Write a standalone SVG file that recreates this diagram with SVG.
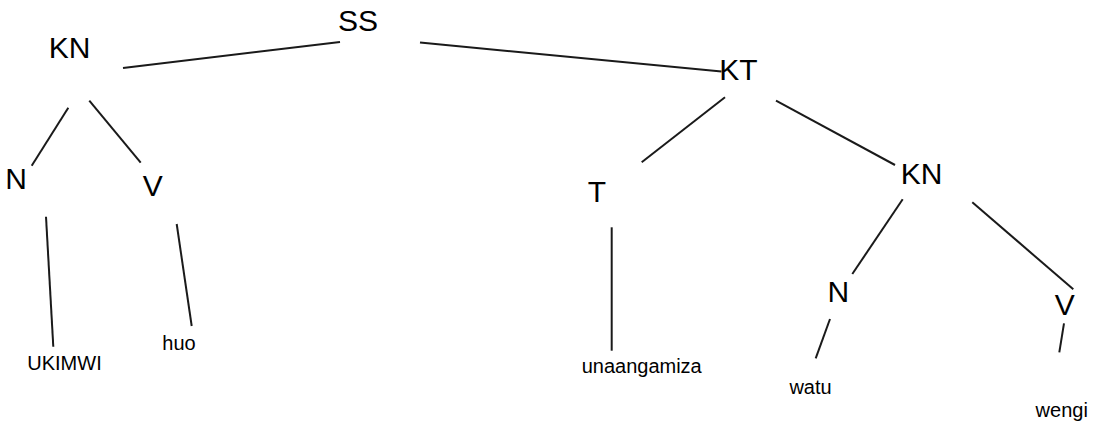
<svg xmlns="http://www.w3.org/2000/svg" width="1095" height="426" viewBox="0 0 1095 426">
<style>
.big{font-family:"Liberation Sans",Arial,Helvetica,sans-serif;font-size:30px;fill:#000;text-anchor:middle}
.small{font-family:"Liberation Sans",Arial,Helvetica,sans-serif;font-size:20px;fill:#000;text-anchor:middle}
.edge{stroke:#1a1a1a;stroke-width:2;fill:none;stroke-linecap:butt}
</style>
<rect width="1095" height="426" fill="#fff"/>
<g id="connectors">
<line class="edge" x1="123" y1="68" x2="340" y2="42"/>
<line class="edge" x1="420" y1="42.5" x2="721.5" y2="71.5"/>
<line class="edge" x1="68.3" y1="107.7" x2="31.7" y2="165.7"/>
<line class="edge" x1="89.3" y1="100.7" x2="140.7" y2="162.7"/>
<line class="edge" x1="46" y1="216.7" x2="53.3" y2="346.7"/>
<line class="edge" x1="176.7" y1="224" x2="191.7" y2="326"/>
<line class="edge" x1="725" y1="97.3" x2="641.7" y2="162.3"/>
<line class="edge" x1="776" y1="100.7" x2="895" y2="165"/>
<line class="edge" x1="611.7" y1="227.3" x2="611.7" y2="350.7"/>
<line class="edge" x1="902.7" y1="199.3" x2="852.3" y2="274"/>
<line class="edge" x1="972.3" y1="202.3" x2="1073.3" y2="289.3"/>
<line class="edge" x1="830" y1="319" x2="815.7" y2="358.3"/>
<line class="edge" x1="1064" y1="323.3" x2="1059.3" y2="352.3"/>
</g>
<g id="node-SS"><text class="big" x="358" y="30.5">SS</text></g>
<g id="node-KN1"><text class="big" x="69.5" y="57.5">KN</text></g>
<g id="node-N1"><text class="big" x="16" y="188.5">N</text></g>
<g id="node-V1"><text class="big" x="152.7" y="196">V</text></g>
<g id="node-UKIMWI"><text class="small" x="64.5" y="370">UKIMWI</text></g>
<g id="node-huo"><text class="small" x="179" y="350">huo</text></g>
<g id="node-KT"><text class="big" x="738.3" y="80">KT</text></g>
<g id="node-T"><text class="big" x="597" y="201.5">T</text></g>
<g id="node-unaangamiza"><text class="small" x="641.7" y="372.7">unaangamiza</text></g>
<g id="node-KN2"><text class="big" x="921.7" y="183.5">KN</text></g>
<g id="node-N2"><text class="big" x="838.3" y="301.5">N</text></g>
<g id="node-V2"><text class="big" x="1064.7" y="315">V</text></g>
<g id="node-watu"><text class="small" x="810.5" y="394">watu</text></g>
<g id="node-wengi"><text class="small" x="1061.7" y="416.7">wengi</text></g>
</svg>
